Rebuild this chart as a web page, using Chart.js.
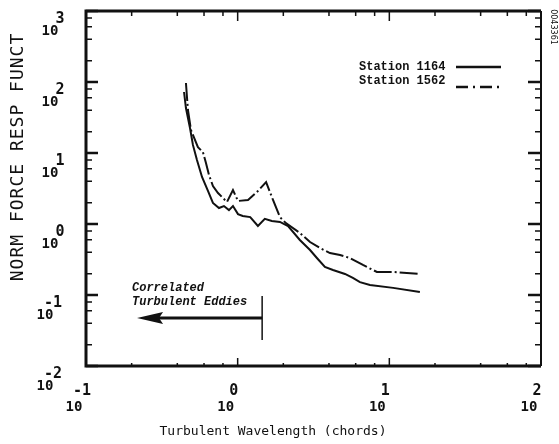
<!DOCTYPE html>
<html>
<head>
<meta charset="utf-8">
<script src="https://cdn.jsdelivr.net/npm/chart.js@4.4.1/dist/chart.umd.min.js"></script>
<style>
  html, body { margin: 0; padding: 0; background: #fff; }
  #wrap { width: 559px; height: 444px; position: relative; }
</style>
</head>
<body>
<div id="wrap"><canvas id="myChart"></canvas></div>
<script>
// values (wavelength in chords, normalized response)
const x1164 = [0.443, 0.456, 0.485, 0.507, 0.539, 0.582, 0.637, 0.687, 0.753, 0.812, 0.876, 0.931, 1.005, 1.08, 1.21, 1.36, 1.51, 1.68, 1.90, 2.15, 2.57, 3.00, 3.33, 3.76, 4.25, 5.10, 5.75, 6.40, 7.45, 10.6, 15.9];
const y1164 = [72.3, 43.0, 22.5, 13.0, 7.97, 4.59, 2.92, 1.98, 1.68, 1.79, 1.57, 1.79, 1.38, 1.30, 1.25, 0.937, 1.18, 1.10, 1.07, 0.937, 0.595, 0.430, 0.332, 0.248, 0.225, 0.198, 0.174, 0.152, 0.138, 0.126, 0.110];
const x1562 = [0.456, 0.470, 0.492, 0.547, 0.590, 0.618, 0.647, 0.687, 0.742, 0.850, 0.931, 1.005, 1.17, 1.34, 1.54, 1.71, 1.90, 2.08, 2.57, 3.00, 3.49, 4.06, 4.73, 5.50, 6.70, 8.28, 10.6, 15.9];
const y1562 = [96.8, 40.3, 21.1, 12.1, 10.3, 7.23, 4.90, 3.43, 2.73, 2.04, 3.01, 2.11, 2.18, 2.82, 3.90, 2.18, 1.25, 1.03, 0.747, 0.558, 0.459, 0.390, 0.366, 0.332, 0.265, 0.211, 0.211, 0.198];

// tick exponents
const expX = [-1, 0, 1, 2];
const expY = [-2, -1, 0, 1, 2, 3];
const minorSteps = [2, 4, 6, 8];

// arrow annotation (data coords)
const eddyFrom = 1.45, eddyTo = 0.217, eddyLevel = 0.0474;

const pts = (xs, ys) => xs.map((v, i) => ({ x: v, y: ys[i] }));
const ink = "#111";

const frame = {
	id: "frame",
	afterDatasetsDraw(chart) {
		const { ctx, chartArea: a, scales: { x, y } } = chart;
		ctx.save();
		ctx.strokeStyle = ink;
		ctx.fillStyle = ink;

		// box
		ctx.lineWidth = 3;
		ctx.beginPath();
		ctx.moveTo(a.right, a.top); ctx.lineTo(a.left, a.top);
		ctx.lineTo(a.left, a.bottom); ctx.lineTo(a.right, a.bottom);
		ctx.stroke();
		ctx.lineWidth = 2;
		ctx.beginPath();
		ctx.moveTo(a.right, a.top); ctx.lineTo(a.right, a.bottom);
		ctx.stroke();

		// x ticks (top + bottom, inward)
		ctx.lineWidth = 1.5;
		expX.forEach((e) => {
			const vals = [[Math.pow(10, e), true]];
			if (e < 2) minorSteps.forEach((m) => vals.push([m * Math.pow(10, e), false]));
			vals.forEach(([v, major]) => {
				const px = x.getPixelForValue(v);
				ctx.beginPath();
				ctx.moveTo(px, a.top); ctx.lineTo(px, a.top + (major ? 10 : 5));
				ctx.moveTo(px, a.bottom); ctx.lineTo(px, a.bottom - (major ? 8 : 3));
				ctx.stroke();
			});
		});

		// y ticks (left + right, inward)
		expY.forEach((e) => {
			const vals = [[Math.pow(10, e), true]];
			if (e < 3) minorSteps.forEach((m) => vals.push([m * Math.pow(10, e), false]));
			vals.forEach(([v, major]) => {
				const py = y.getPixelForValue(v);
				ctx.lineWidth = major ? 2.5 : 1.5;
				ctx.beginPath();
				ctx.moveTo(a.left, py); ctx.lineTo(a.left + (major ? 12 : 6), py);
				ctx.moveTo(a.right, py); ctx.lineTo(a.right - (major ? 13 : 6), py);
				ctx.stroke();
			});
		});

		// tick labels: 10 with raised exponent
		ctx.textAlign = "center";
		ctx.textBaseline = "middle";
		expY.forEach((e) => {
			const py = y.getPixelForValue(Math.pow(10, e));
			const neg = e < 0;
			ctx.font = "bold 14px 'DejaVu Sans Mono'";
			ctx.fillText("10", neg ? 45 : 50, py + 20);
			ctx.font = "bold 15px 'DejaVu Sans Mono'";
			ctx.fillText(String(e), neg ? 53 : 60, py + 8);
		});
		expX.forEach((e) => {
			const px = x.getPixelForValue(Math.pow(10, e));
			ctx.font = "bold 14px 'DejaVu Sans Mono'";
			ctx.fillText("10", px - 12, 407);
			ctx.font = "bold 15px 'DejaVu Sans Mono'";
			ctx.fillText(String(e), px - 4, 391);
		});

		// axis titles
		ctx.font = "18px 'DejaVu Sans Mono'";
		ctx.letterSpacing = "1px";
		ctx.save();
		ctx.translate(18, 157);
		ctx.rotate(-Math.PI / 2);
		ctx.fillText("NORM FORCE RESP FUNCT", 0, 0);
		ctx.restore();
		ctx.letterSpacing = "0px";
		ctx.font = "13px 'DejaVu Sans Mono'";
		ctx.fillText("Turbulent Wavelength (chords)", 273, 432);

		// legend
		ctx.textAlign = "left";
		ctx.font = "bold 12px 'Liberation Mono'";
		chart.data.datasets.forEach((ds, i) => {
			const ty = 67 + i * 14;
			const ly = 67 + i * 20;
			ctx.fillText(ds.label, 359, ty);
			ctx.save();
			ctx.lineWidth = 2.5;
			ctx.setLineDash(i === 0 ? [] : [12, 5, 2, 5]);
			ctx.beginPath();
			ctx.moveTo(456, ly); ctx.lineTo(501, ly);
			ctx.stroke();
			ctx.restore();
		});

		// correlated eddies arrow
		const ax0 = x.getPixelForValue(eddyFrom);
		const ax1 = x.getPixelForValue(eddyTo);
		const ay = y.getPixelForValue(eddyLevel);
		ctx.lineWidth = 3;
		ctx.beginPath();
		ctx.moveTo(ax0, ay); ctx.lineTo(ax1 + 20, ay);
		ctx.stroke();
		ctx.beginPath();
		ctx.moveTo(ax1, ay); ctx.lineTo(ax1 + 26, ay - 6); ctx.lineTo(ax1 + 22, ay); ctx.lineTo(ax1 + 26, ay + 6);
		ctx.closePath();
		ctx.fill();
		ctx.lineWidth = 1.5;
		ctx.beginPath();
		ctx.moveTo(ax0, y.getPixelForValue(0.0968)); ctx.lineTo(ax0, y.getPixelForValue(0.0232));
		ctx.stroke();
		ctx.font = "italic bold 12px 'Liberation Mono'";
		ctx.fillText("Correlated", 132, 288);
		ctx.fillText("Turbulent Eddies", 132, 302);

		// scan id at the right edge
		ctx.save();
		ctx.translate(553, 27);
		ctx.rotate(Math.PI / 2);
		ctx.textAlign = "center";
		ctx.font = "8px 'DejaVu Sans'";
		ctx.fillText("0043361", 0, 0);
		ctx.restore();

		ctx.restore();
	},
};

new Chart(document.getElementById("myChart"), {
	type: "line",
	data: {
		datasets: [
			{
				label: "Station 1164",
				data: pts(x1164, y1164),
				borderColor: ink,
				borderWidth: 2,
				pointRadius: 0,
				tension: 0,
			},
			{
				label: "Station 1562",
				data: pts(x1562, y1562),
				borderColor: ink,
				borderWidth: 2,
				borderDash: [18, 3, 2, 3],
				pointRadius: 0,
				tension: 0,
			},
		],
	},
	options: {
		responsive: true,
		maintainAspectRatio: false,
		animation: false,
		layout: { padding: { left: 86, top: 11, right: 18, bottom: 78 } },
		scales: {
			x: { type: "logarithmic", min: 0.1, max: 100, display: false },
			y: { type: "logarithmic", min: 0.01, max: 1000, display: false },
		},
		plugins: {
			legend: { display: false },
			tooltip: { enabled: false },
		},
	},
	plugins: [frame],
});
</script>
</body>
</html>
